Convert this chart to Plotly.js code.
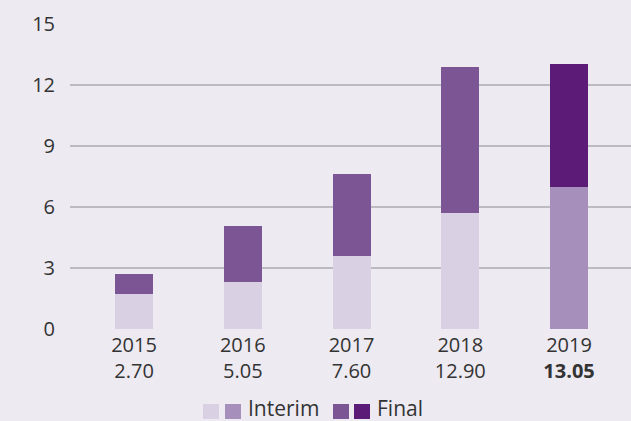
<!DOCTYPE html>
<html>
<head>
<meta charset="utf-8">
<script src="https://cdn.plot.ly/plotly-3.0.1.min.js"></script>
<style>html,body{margin:0;padding:0;background:#edeaf1;}</style>
</head>
<body>
<div id="chart" style="width:631px;height:421px;"></div>
<script>
var years = ['2015', '2016', '2017', '2018', '2019'];
var totalLabels = ['2.70', '5.05', '7.60', '12.90', '13.05'];
var interim = [1.70, 2.30, 3.60, 5.70, 7.00];
var finalDiv = [1.00, 2.75, 4.00, 7.20, 6.05];
var yTicks = [0, 3, 6, 9, 12, 15];

var interimColors = ['#d9d0e4', '#d9d0e4', '#d9d0e4', '#d9d0e4', '#a78fbb'];
var finalColors = ['#7b5594', '#7b5594', '#7b5594', '#7b5594', '#5c1b76'];

var tickText = years.map(function (y, i) {
  var v = (i === years.length - 1) ? '<b>' + totalLabels[i] + '</b>' : totalLabels[i];
  return y + '<br>' + v;
});

var FONT = '"Open Sans", sans-serif';

var traces = [
  {type: 'bar', x: years, y: interim, name: 'Interim', marker: {color: interimColors}, width: 0.35, hoverinfo: 'none'},
  {type: 'bar', x: years, y: finalDiv, name: 'Final', marker: {color: finalColors}, width: 0.35, hoverinfo: 'none'}
];

// legend drawn with shapes (paper coords)
var L = 70, W = 561, B = 329, H = 305;
function px(x) { return (x - L) / W; }
function py(y) { return (B - y) / H; }
var legendSquares = [[203, '#d9d0e4'], [225, '#a78fbb'], [333, '#7b5594'], [354, '#5c1b76']];
var shapes = legendSquares.map(function (s) {
  return {type: 'rect', xref: 'paper', yref: 'paper', x0: px(s[0]), x1: px(s[0] + 16), y0: py(404), y1: py(419), fillcolor: s[1], line: {width: 0}};
});
var annotations = [
  {xref: 'paper', yref: 'paper', x: px(247), y: py(408.5), xanchor: 'left', yanchor: 'middle', text: 'Interim', showarrow: false, borderpad: 0, font: {size: 21, color: '#333333', family: FONT}},
  {xref: 'paper', yref: 'paper', x: px(376), y: py(408.5), xanchor: 'left', yanchor: 'middle', text: 'Final', showarrow: false, borderpad: 0, font: {size: 21, color: '#333333', family: FONT}}
];

var layout = {
  width: 631, height: 421,
  margin: {l: L, r: 0, t: 24, b: 92, pad: 0},
  paper_bgcolor: '#edeaf1', plot_bgcolor: '#edeaf1',
  barmode: 'stack',
  showlegend: false,
  font: {family: FONT, size: 20, color: '#333333'},
  xaxis: {
    type: 'category', range: [-0.589, 4.57],
    tickvals: years, ticktext: tickText,
    showgrid: false, zeroline: false, showline: false, ticks: '',
    ticklabelstandoff: 2,
    tickfont: {size: 20, color: '#333333'}
  },
  yaxis: {
    range: [0, 15], tickvals: yTicks, ticktext: yTicks.map(String),
    showgrid: true, gridcolor: '#bdbbc2', gridwidth: 1.5,
    zeroline: false, showline: false, ticks: '',
    ticklabelstandoff: 14,
    tickfont: {size: 20, color: '#333333'}
  },
  shapes: shapes,
  annotations: annotations
};

Plotly.newPlot('chart', traces, layout, {displayModeBar: false, staticPlot: true});
</script>
</body>
</html>
